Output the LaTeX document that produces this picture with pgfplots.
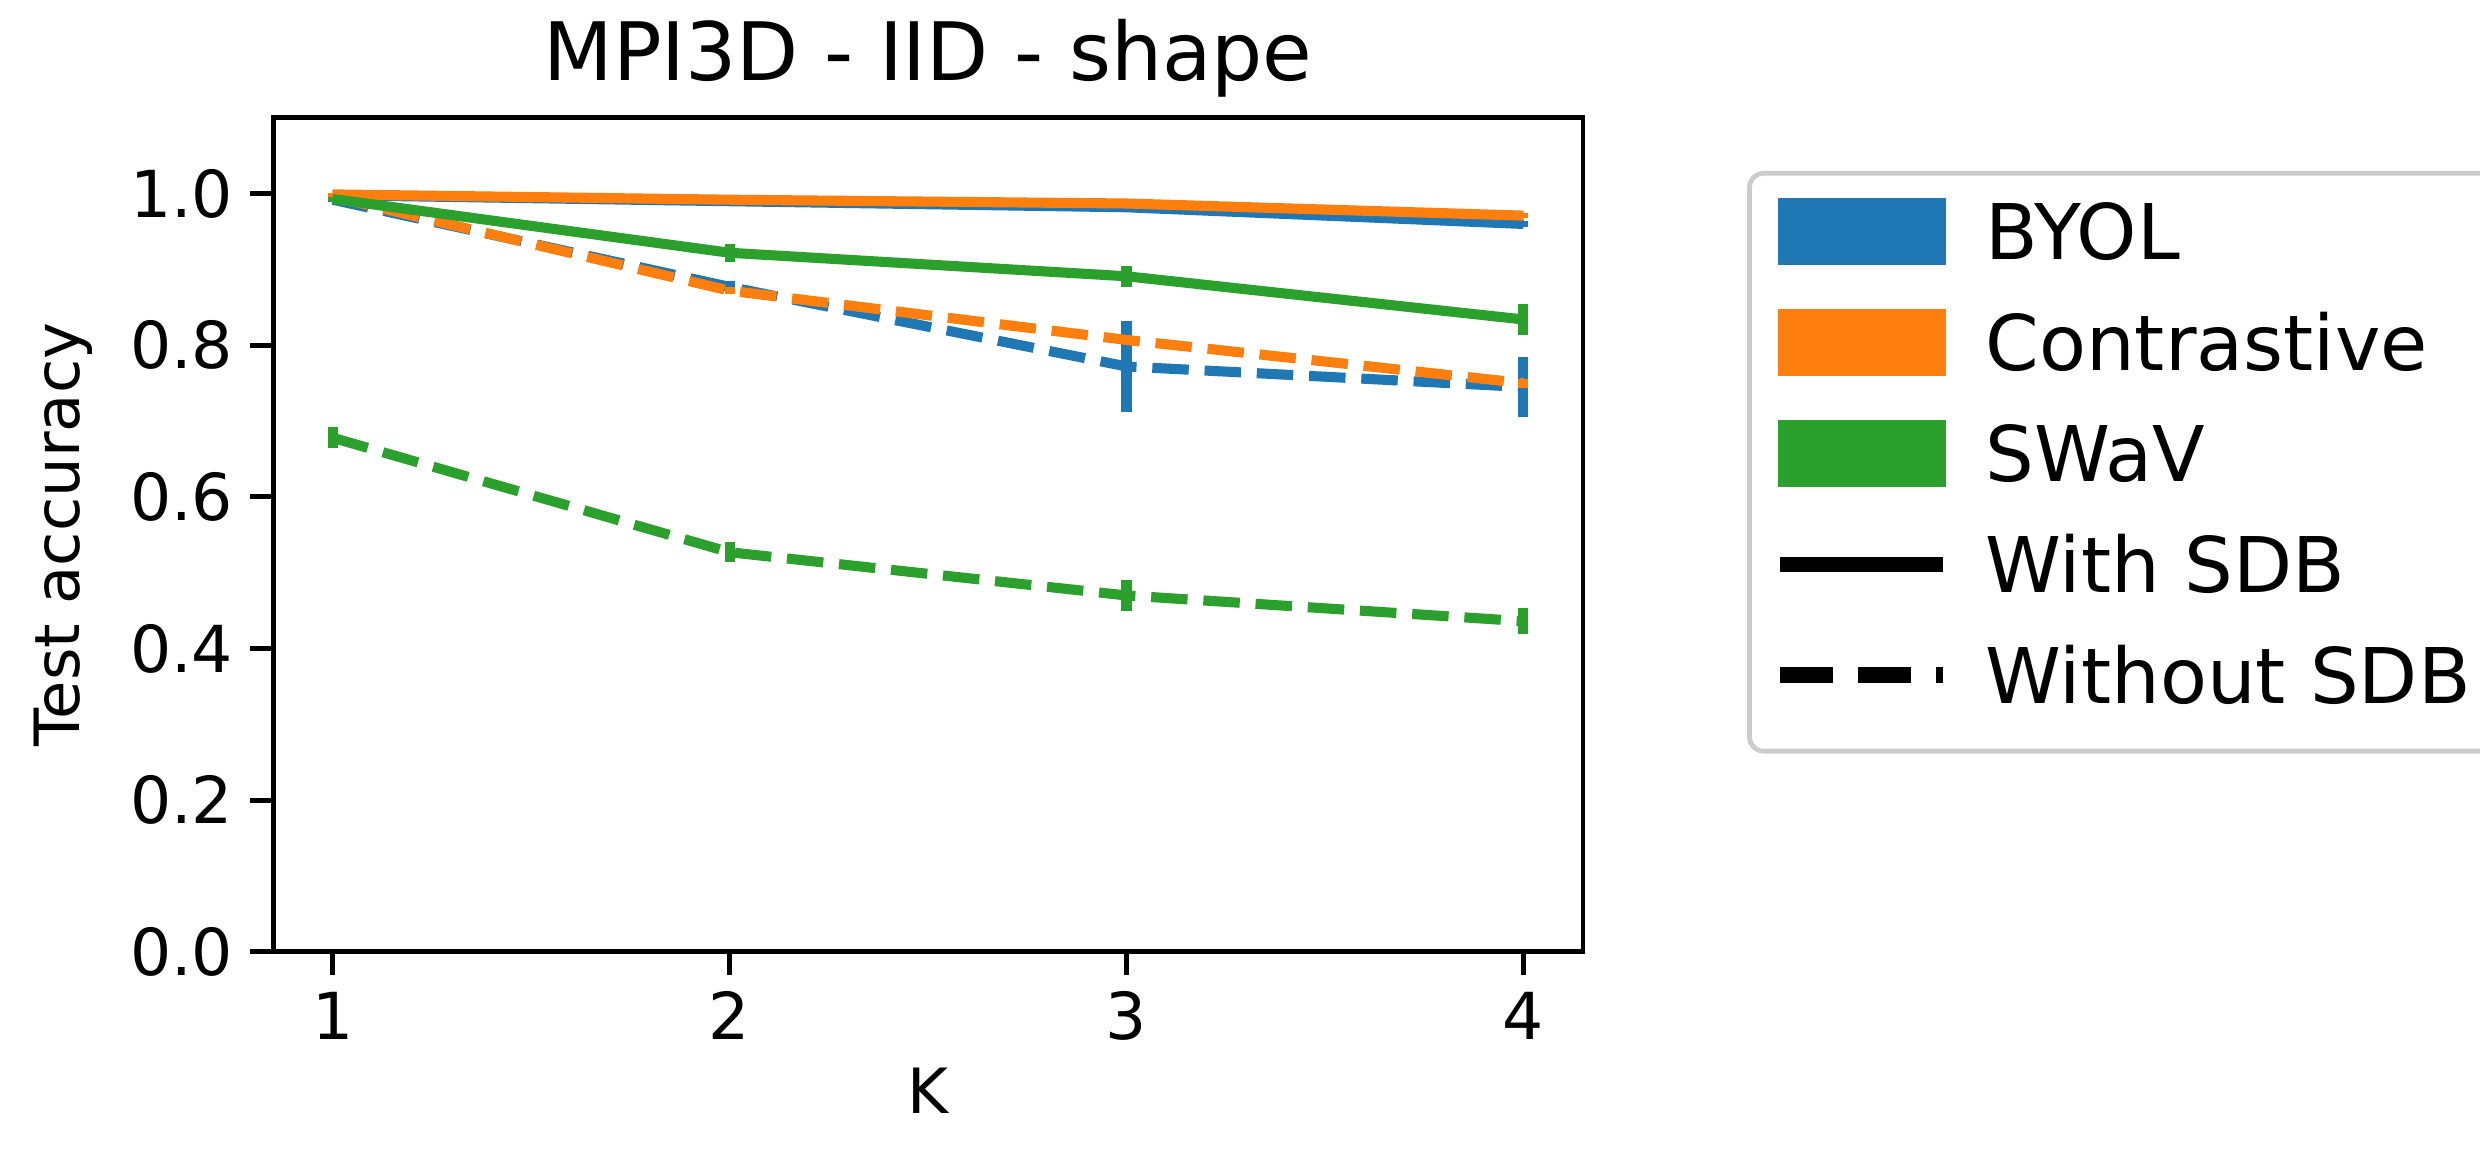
\documentclass[border=0pt]{standalone}
\usepackage{fontspec}
\setmainfont{DejaVu Sans}
\usepackage{pgfplots}
\pgfplotsset{compat=1.18}

\definecolor{tabblue}{HTML}{1F77B4}
\definecolor{taborange}{HTML}{FF7F0E}
\definecolor{tabgreen}{HTML}{2CA02C}

\pgfplotsset{
  sdbline/.style={line width=2.1pt, line join=round, no markers, forget plot,
    error bars/y dir=both, error bars/y explicit, error bars/error mark=none,
    error bars/error bar style={line width=2.1pt, solid}},
  without/.style={dash pattern=on 7.6pt off 3.3pt},
}

\begin{document}
\begin{tikzpicture}
\begin{axis}[
    scale only axis,
    width=272.9pt, height=173.75pt,
    xmin=0.85, xmax=4.15,
    ymin=0, ymax=1.1,
    xtick={1,2,3,4},
    ytick={0,0.2,0.4,0.6,0.8,1.0},
    xtick pos=bottom, ytick pos=left,
    tick align=outside,
    major tick length=4.8pt,
    axis line style={line width=1pt},
    every tick/.style={black, line width=1pt},
    /pgf/number format/assume math mode=true,
    yticklabel style={/pgf/number format/.cd, fixed, fixed zerofill, precision=1},
    ticklabel style={font=\fontsize{13.5}{16}\selectfont},
    xlabel={K}, ylabel={Test accuracy},
    label style={font=\fontsize{13}{16}\selectfont},
    xlabel style={at={(0.5,-0.167)}, anchor=center},
    ylabel style={at={(-0.1603,0.5)}, anchor=center},
    title={MPI3D - IID - shape},
    title style={at={(0.5,1)}, anchor=base, yshift=1.7pt, font=\fontsize{16.8}{20}\selectfont},
    legend style={at={(1.1253,0.9364)}, anchor=north west,
      draw=black!20, line width=1pt, rounded corners=3pt,
      font=\fontsize{16}{19}\selectfont,
      inner xsep=4.8pt, inner ysep=4pt, row sep=3.1pt,
      nodes={inner sep=2pt, text height=12pt, text depth=4pt},
      /tikz/every odd column/.append style={column sep=5.2pt}},
    legend cell align=left,
]

% BYOL
\addplot[sdbline, tabblue] coordinates {
  (1,0.998) +- (0,0.002) (2,0.990) +- (0,0.002) (3,0.982) +- (0,0.003) (4,0.960) +- (0,0.004)
};
\addplot[sdbline, without, tabblue] coordinates {
  (1,0.992) +- (0,0.003) (2,0.877) +- (0,0.008) (3,0.772) +- (0,0.060) (4,0.745) +- (0,0.039)
};

% Contrastive
\addplot[sdbline, taborange] coordinates {
  (1,0.999) +- (0,0.002) (2,0.992) +- (0,0.002) (3,0.987) +- (0,0.002) (4,0.971) +- (0,0.003)
};
\addplot[sdbline, without, taborange] coordinates {
  (1,0.996) +- (0,0.003) (2,0.872) +- (0,0.005) (3,0.807) +- (0,0.005) (4,0.750) +- (0,0.006)
};

% SWaV
\addplot[sdbline, tabgreen] coordinates {
  (1,0.993) +- (0,0.003) (2,0.922) +- (0,0.012) (3,0.891) +- (0,0.014) (4,0.834) +- (0,0.020)
};
\addplot[sdbline, without, tabgreen] coordinates {
  (1,0.678) +- (0,0.014) (2,0.527) +- (0,0.013) (3,0.470) +- (0,0.020) (4,0.436) +- (0,0.017)
};

\addlegendimage{legend image code/.code={\fill[tabblue, sharp corners] (0pt,-4.6pt) rectangle (34pt,8.3pt);}}
\addlegendentry{BYOL}
\addlegendimage{legend image code/.code={\fill[taborange, sharp corners] (0pt,-4.6pt) rectangle (34pt,8.3pt);}}
\addlegendentry{Contrastive}
\addlegendimage{legend image code/.code={\fill[tabgreen, sharp corners] (0pt,-4.6pt) rectangle (34pt,8.3pt);}}
\addlegendentry{SWaV}
\addlegendimage{legend image code/.code={\draw[black, sharp corners, line width=3.2pt] (0pt,1.85pt) -- (34pt,1.85pt);}}
\addlegendentry{With SDB}
\addlegendimage{legend image code/.code={\draw[black, sharp corners, line width=3.2pt, dash pattern=on 11pt off 5.2pt] (0pt,1.85pt) -- (34pt,1.85pt);}}
\addlegendentry{Without SDB}
\end{axis}
\pgfresetboundingbox
\path[use as bounding box] (-56.9pt,-42.1pt) rectangle (459.8pt,198.3pt);
\end{tikzpicture}
\end{document}
